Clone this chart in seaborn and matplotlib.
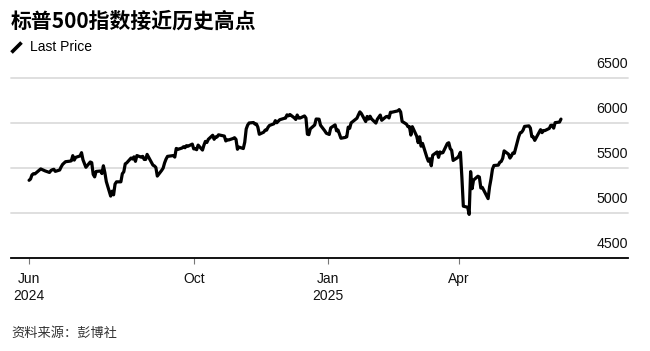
import matplotlib
matplotlib.use("Agg")
import matplotlib.pyplot as plt
from matplotlib.lines import Line2D
import matplotlib.transforms as mtransforms
import seaborn as sns
import pandas as pd

# ---------------- data (S&P 500 closing levels) ----------------
title = "标普500指数接近历史高点"
legend_label = "Last Price"
source = "资料来源：彭博社"

start_date = "2024-06-10"
end_date = "2025-06-10"
market_holidays = ["2024-06-19", "2024-07-04", "2024-09-02", "2024-11-28", "2024-12-25",
                   "2025-01-01", "2025-01-09", "2025-01-20", "2025-02-17", "2025-04-18",
                   "2025-05-26"]

jun_2024 = [5361, 5375, 5421, 5434, 5432, 5473, 5487, 5473, 5465, 5448, 5469, 5478, 5483, 5460]
jul_2024 = [5475, 5509, 5537, 5567, 5573, 5577, 5634, 5585, 5615, 5631, 5667, 5588, 5545, 5505,
            5564, 5556, 5427, 5399, 5459, 5464, 5436, 5522]
aug_2024 = [5447, 5347, 5186, 5240, 5200, 5319, 5344, 5344, 5434, 5455, 5543, 5554, 5608, 5597,
            5621, 5571, 5635, 5617, 5626, 5592, 5592, 5648]
sep_2024 = [5529, 5520, 5503, 5408, 5471, 5496, 5554, 5596, 5626, 5633, 5635, 5618, 5714, 5703,
            5719, 5733, 5722, 5745, 5738, 5762]
oct_2024 = [5709, 5710, 5700, 5751, 5696, 5751, 5792, 5780, 5815, 5860, 5815, 5842, 5841, 5865,
            5854, 5851, 5797, 5810, 5808, 5824, 5833, 5814, 5705]
nov_2024 = [5729, 5713, 5783, 5929, 5973, 5996, 6001, 5984, 5985, 5949, 5871, 5894, 5917, 5917,
            5949, 5969, 5987, 6022, 5999, 6032]
dec_2024 = [6047, 6050, 6086, 6075, 6090, 6053, 6035, 6084, 6051, 6051, 6074, 6051, 5872, 5867,
            5931, 5974, 6040, 6038, 5971, 5907, 5882]
jan_2025 = [5869, 5942, 5975, 5909, 5918, 5827, 5836, 5843, 5950, 5937, 5997, 6049, 6086, 6119,
            6101, 6012, 6068, 6039, 6071, 6041]
feb_2025 = [5995, 6038, 6061, 6084, 6026, 6066, 6069, 6052, 6115, 6115, 6130, 6144, 6118, 6013,
            5983, 5955, 5956, 5862, 5955]
mar_2025 = [5850, 5778, 5843, 5739, 5770, 5615, 5572, 5599, 5522, 5639, 5675, 5615, 5675, 5663,
            5668, 5768, 5777, 5712, 5693, 5581, 5612]
apr_2025 = [5633, 5671, 5397, 5074, 5062, 4983, 5457, 5268, 5363, 5406, 5397, 5276, 5283, 5158,
            5288, 5376, 5485, 5525, 5529, 5561, 5569]
may_2025 = [5604, 5687, 5650, 5607, 5631, 5664, 5660, 5844, 5887, 5893, 5917, 5958, 5964, 5940,
            5845, 5842, 5803, 5922, 5889, 5912, 5912]
jun_2025 = [5936, 5970, 5971, 5939, 6000, 6006, 6039]

y_ticks = [4500, 5000, 5500, 6000, 6500]
x_tick_dates = ["2024-06-10", "2024-10-01", "2025-01-01", "2025-04-01"]
x_tick_labels = ["Jun\n2024", "Oct", "Jan\n2025", "Apr"]

# ---------------- build table ----------------
prices = (jun_2024 + jul_2024 + aug_2024 + sep_2024 + oct_2024 + nov_2024 + dec_2024 +
          jan_2025 + feb_2025 + mar_2025 + apr_2025 + may_2025 + jun_2025)
dates = pd.bdate_range(start_date, end_date, freq="C", holidays=market_holidays)
assert len(dates) == len(prices), (len(dates), len(prices))
df = pd.DataFrame({"date": dates, "price": prices})

# ---------------- style ----------------
sns.set_theme(style="white")
plt.rcParams["font.family"] = ["Liberation Sans", "Noto Sans CJK SC", "DejaVu Sans"]

W, H = 650, 351
fig = plt.figure(figsize=(W / 100, H / 100), dpi=100)
fig.patch.set_facecolor("white")

ax_left, ax_right, ax_top, ax_bottom = 11, 628, 77.5, 258
ax = fig.add_axes([ax_left / W, (H - ax_bottom) / H,
                   (ax_right - ax_left) / W, (ax_bottom - ax_top) / H])
ax.set_facecolor("white")

sns.lineplot(data=df, x="date", y="price", ax=ax, color="black", linewidth=2.3,
             legend=False, zorder=3)

ax.set_ylim(y_ticks[0], y_ticks[-1])
ax.set_xlim(pd.Timestamp(start_date) - pd.Timedelta(days=12.4),
            pd.Timestamp(end_date) + pd.Timedelta(days=46))

# gridlines
ax.set_yticks(y_ticks[1:])
ax.yaxis.grid(True, color="#dcdcdc", linewidth=1.3)
ax.xaxis.grid(False)
for gl in ax.get_ygridlines():
    gl.set_clip_on(False)
ax.tick_params(axis="y", left=False, right=False, labelleft=False, labelright=False)
ax.set_axisbelow(True)

# y labels above gridlines, right aligned
trans = mtransforms.blended_transform_factory(ax.transAxes, ax.transData)
for v in y_ticks:
    ax.annotate(f"{v}", xy=(1.0, v), xycoords=trans, xytext=(0, 5),
                textcoords="offset points", ha="right", va="bottom",
                fontsize=10.3, color="#111111", family=["Liberation Sans", "DejaVu Sans"])

# x axis
ax.set_xticks(pd.to_datetime(x_tick_dates))
ax.set_xticklabels(x_tick_labels, fontsize=10, color="#111111", linespacing=1.25)
ax.tick_params(axis="x", bottom=True, direction="out", length=4, width=0.8,
               color="#777777", pad=6)
ax.set_xlabel("")
ax.set_ylabel("")

for s in ["top", "left", "right"]:
    ax.spines[s].set_visible(False)
ax.spines["bottom"].set_color("black")
ax.spines["bottom"].set_linewidth(1.3)

# title, legend, source
fig.text(11 / W, 1 - 21 / H, title, ha="left", va="center", fontsize=15,
         fontweight="bold", color="black", family=["Noto Sans CJK SC", "DejaVu Sans"])
fig.add_artist(Line2D([11.5 / W, 21.5 / W], [1 - 52.5 / H, 1 - 42.5 / H],
                      transform=fig.transFigure, color="black", linewidth=2.6,
                      solid_capstyle="butt"))
fig.text(30 / W, 1 - 47 / H, legend_label, ha="left", va="center", fontsize=10,
         color="black", family=["Liberation Sans", "DejaVu Sans"])
fig.text(11 / W, 1 - 333 / H, source, ha="left", va="center", fontsize=9.5,
         color="#333333", family=["Noto Sans CJK SC", "DejaVu Sans"])

fig.savefig("out.png", dpi=100, facecolor="white")
